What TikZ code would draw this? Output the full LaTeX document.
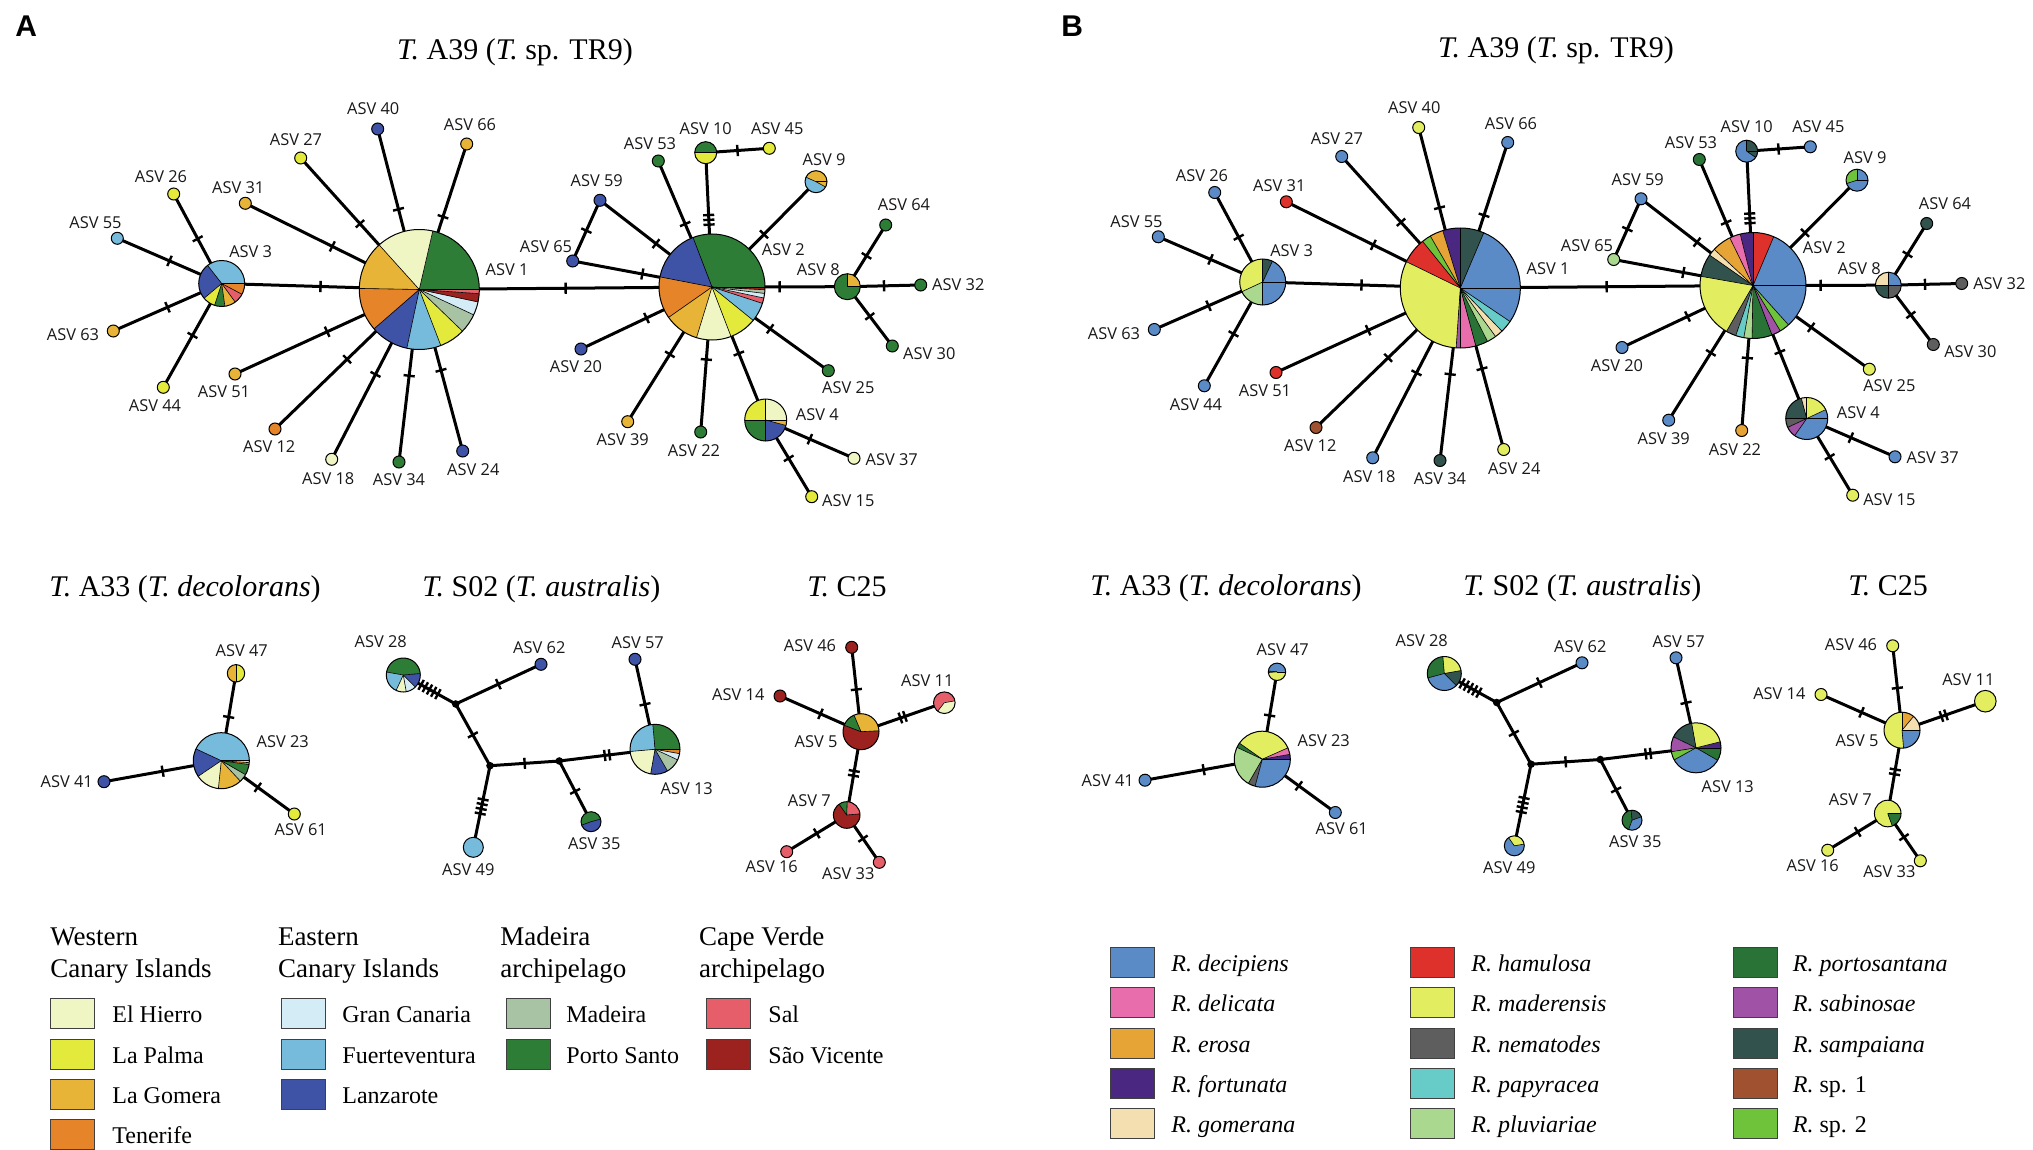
\documentclass[tikz,border=0pt]{standalone}
\usepackage{fontspec}
\setmainfont{Liberation Serif}
\newfontfamily\labfont{Open Sans}
\newfontfamily\panfont{Liberation Sans}
\usetikzlibrary{calc}
% panel A colours (islands)
\definecolor{cEH}{HTML}{F0F6C3}
\definecolor{cLP}{HTML}{E3EA3C}
\definecolor{cLG}{HTML}{E8B438}
\definecolor{cTF}{HTML}{E58428}
\definecolor{cGC}{HTML}{D4ECF5}
\definecolor{cFV}{HTML}{76BBDB}
\definecolor{cLZ}{HTML}{3E52A6}
\definecolor{cMA}{HTML}{A8C3A3}
\definecolor{cPS}{HTML}{2E7D36}
\definecolor{cSA}{HTML}{E65E6A}
\definecolor{cSV}{HTML}{9B221E}
% panel B colours (species)
\definecolor{rdec}{HTML}{5A8BC6}
\definecolor{rdel}{HTML}{E86DAC}
\definecolor{rero}{HTML}{E5A435}
\definecolor{rfor}{HTML}{4A2882}
\definecolor{rgom}{HTML}{F3DFB0}
\definecolor{rham}{HTML}{DE312B}
\definecolor{rmad}{HTML}{E2EE5F}
\definecolor{rnem}{HTML}{5E5E5E}
\definecolor{rpap}{HTML}{67CBC7}
\definecolor{rplu}{HTML}{A9D88E}
\definecolor{rpor}{HTML}{2A7336}
\definecolor{rsab}{HTML}{A052A6}
\definecolor{rsam}{HTML}{32524E}
\definecolor{rspa}{HTML}{A05230}
\definecolor{rspb}{HTML}{6EC33A}

\newcommand\tkr{\rule[-2.8pt]{1.2pt}{5.6pt}}
\newcommand\tkg{\hspace{1.2pt}}
\newcommand\ticks[1]{\ifcase#1\or\tkr\or\tkr\tkg\tkr\or\tkr\tkg\tkr\tkg\tkr\or\tkr\tkg\tkr\tkg\tkr\tkg\tkr\or\tkr\tkg\tkr\tkg\tkr\tkg\tkr\tkg\tkr\fi}
\newcommand\ed[3]{\draw[edge] (#1) -- node[tkmark]{\ticks{#3}} (#2);}
\newcommand\lf[2]{\node[leaf, fill=#2] (#1n) at (#1) {};}
\newcommand\disc[3]{\node[pienode, fill=#3, minimum size=#2 pt] (#1n) at (#1) {};}
\newcommand\pie[3]{%
  \foreach \sa/\sb/\sc in {#3}{\fill[fill=\sc] (#1) -- ++(-\sa:#2) arc[start angle=-\sa, end angle=-\sb, radius=#2] -- cycle;}
  \foreach \sa/\sb/\sc in {#3}{\draw[sliceline] (#1) -- ++(-\sa:#2);}
  \node[pienode, minimum size=#2 pt] (#1n) at (#1) {};}
\newcommand\lgi[6]{%
  \node[legbox, fill=#4] (#1b) at (#2,#3) {};
  \node[legt] (#1t) at (#5,#3+24.5) {#6};}

\newcommand\netgeom[3]{%
\begin{scope}[shift={(#2,#3)}]
\coordinate (#1-1) at (419.3,289.5);
\coordinate (#1-2) at (712,287);
\coordinate (#1-3) at (221.7,283.5);
\coordinate (#1-4) at (765.7,420);
\coordinate (#1-8) at (847.3,286.7);
\coordinate (#1-9) at (816,181.7);
\coordinate (#1-10) at (705.7,152.7);
\coordinate (#1-55) at (117.3,238.3);
\coordinate (#1-26) at (173.7,194);
\coordinate (#1-63) at (113.3,331);
\coordinate (#1-44) at (163.3,387.3);
\coordinate (#1-31) at (245.3,203.3);
\coordinate (#1-27) at (300.7,158);
\coordinate (#1-40) at (377.7,129);
\coordinate (#1-66) at (466.7,144);
\coordinate (#1-51) at (235,374);
\coordinate (#1-12) at (275,429);
\coordinate (#1-18) at (331.7,459.3);
\coordinate (#1-34) at (399,462);
\coordinate (#1-24) at (462.7,451);
\coordinate (#1-45) at (769.3,148.3);
\coordinate (#1-53) at (658.3,161);
\coordinate (#1-59) at (600,200.3);
\coordinate (#1-65) at (572.7,261);
\coordinate (#1-64) at (885.7,225);
\coordinate (#1-32) at (920.7,285);
\coordinate (#1-30) at (892.3,346);
\coordinate (#1-20) at (581,349);
\coordinate (#1-39) at (627.7,421.7);
\coordinate (#1-22) at (700.7,432);
\coordinate (#1-25) at (828.3,370.7);
\coordinate (#1-37) at (854,458.3);
\coordinate (#1-15) at (811.7,496.7);
\coordinate (#1-23) at (221.3,760.7);
\coordinate (#1-47) at (236,673.3);
\coordinate (#1-41) at (104,781.7);
\coordinate (#1-61) at (294.3,814);
\coordinate (#1-28) at (403.3,675);
\coordinate (#1-J1) at (455.7,704);
\coordinate (#1-J2) at (490,765.7);
\coordinate (#1-J3) at (559.3,761);
\coordinate (#1-62) at (541,664.3);
\coordinate (#1-49) at (473.3,847.3);
\coordinate (#1-35) at (591,821.7);
\coordinate (#1-13) at (655,749.3);
\coordinate (#1-57) at (635,659.3);
\coordinate (#1-5) at (861,731.7);
\coordinate (#1-46) at (851.7,647.3);
\coordinate (#1-14) at (780,696);
\coordinate (#1-11) at (944.3,702.7);
\coordinate (#1-7) at (846.7,815);
\coordinate (#1-16) at (786.7,851.7);
\coordinate (#1-33) at (879.3,862.3);
% edges
\ed{#1-3}{#1-1}{1}\ed{#1-1}{#1-2}{1}
\ed{#1-3}{#1-55}{1}\ed{#1-3}{#1-26}{1}\ed{#1-3}{#1-63}{1}\ed{#1-3}{#1-44}{1}
\ed{#1-1}{#1-31}{1}\ed{#1-1}{#1-27}{1}\ed{#1-1}{#1-40}{1}\ed{#1-1}{#1-66}{1}
\ed{#1-1}{#1-51}{1}\ed{#1-1}{#1-12}{1}\ed{#1-1}{#1-18}{1}\ed{#1-1}{#1-34}{1}\ed{#1-1}{#1-24}{1}
\ed{#1-2}{#1-10}{3}\ed{#1-10}{#1-45}{1}\ed{#1-2}{#1-53}{1}\ed{#1-2}{#1-9}{1}
\ed{#1-2}{#1-59}{1}\ed{#1-59}{#1-65}{1}\ed{#1-2}{#1-65}{1}
\ed{#1-2}{#1-8}{1}\ed{#1-8}{#1-64}{1}\ed{#1-8}{#1-32}{1}\ed{#1-8}{#1-30}{1}
\ed{#1-2}{#1-20}{1}\ed{#1-2}{#1-39}{1}\ed{#1-2}{#1-22}{1}\ed{#1-2}{#1-25}{1}\ed{#1-2}{#1-4}{1}
\ed{#1-4}{#1-37}{1}\ed{#1-4}{#1-15}{1}
\ed{#1-23}{#1-47}{1}\ed{#1-23}{#1-41}{1}\ed{#1-23}{#1-61}{1}
\ed{#1-28}{#1-J1}{5}\ed{#1-J1}{#1-62}{1}\ed{#1-J1}{#1-J2}{1}\ed{#1-J2}{#1-49}{4}
\ed{#1-J2}{#1-J3}{1}\ed{#1-J3}{#1-35}{1}\ed{#1-J3}{#1-13}{2}\ed{#1-13}{#1-57}{1}
\ed{#1-5}{#1-46}{1}\ed{#1-5}{#1-14}{1}\ed{#1-5}{#1-11}{2}\ed{#1-5}{#1-7}{2}
\ed{#1-7}{#1-16}{1}\ed{#1-7}{#1-33}{1}
\node[jdot] (#1-J1n) at (#1-J1) {};
\node[jdot] (#1-J2n) at (#1-J2) {};
\node[jdot] (#1-J3n) at (#1-J3) {};
% labels
\node[lab] (#1-l55) at (95.5,223) {ASV 55};
\node[lab] (#1-l26) at (161,176.7) {ASV 26};
\node[lab] (#1-l63) at (73,335) {ASV 63};
\node[lab] (#1-l44) at (155,406) {ASV 44};
\node[lab] (#1-l3) at (250.7,251.7) {ASV 3};
\node[lab] (#1-l31) at (238.3,187.3) {ASV 31};
\node[lab] (#1-l27) at (296,140) {ASV 27};
\node[lab] (#1-l40) at (373.3,109) {ASV 40};
\node[lab] (#1-l66) at (470,125) {ASV 66};
\node[lab] (#1-l51) at (224,391.7) {ASV 51};
\node[lab] (#1-l12) at (269.3,446.7) {ASV 12};
\node[lab] (#1-l18) at (328.3,478.3) {ASV 18};
\node[lab] (#1-l34) at (399,480) {ASV 34};
\node[lab] (#1-l24) at (473.3,470) {ASV 24};
\node[lab] (#1-l1) at (507,270) {ASV 1};
\node[lab] (#1-l2) at (783.3,249.3) {ASV 2};
\node[lab] (#1-l10) at (705.7,128.3) {ASV 10};
\node[lab] (#1-l45) at (777.3,128.3) {ASV 45};
\node[lab] (#1-l53) at (650,144) {ASV 53};
\node[lab] (#1-l9) at (824,159.3) {ASV 9};
\node[lab] (#1-l59) at (596.7,180.7) {ASV 59};
\node[lab] (#1-l65) at (546,246.7) {ASV 65};
\node[lab] (#1-l8) at (818.3,270) {ASV 8};
\node[lab] (#1-l64) at (904,205) {ASV 64};
\node[lab] (#1-l32) at (958.3,285) {ASV 32};
\node[lab] (#1-l30) at (929.3,353.3) {ASV 30};
\node[lab] (#1-l20) at (576,366.7) {ASV 20};
\node[lab] (#1-l39) at (622.7,440) {ASV 39};
\node[lab] (#1-l22) at (694,450.7) {ASV 22};
\node[lab] (#1-l25) at (848.3,387.3) {ASV 25};
\node[lab] (#1-l4) at (817.3,414.3) {ASV 4};
\node[lab] (#1-l37) at (891.7,459.3) {ASV 37};
\node[lab] (#1-l15) at (848.3,501) {ASV 15};
\node[lab] (#1-l23) at (282.7,741.7) {ASV 23};
\node[lab] (#1-l47) at (241.7,650.7) {ASV 47};
\node[lab] (#1-l41) at (66.7,781.7) {ASV 41};
\node[lab] (#1-l61) at (300.7,830) {ASV 61};
\node[lab] (#1-l28) at (380.7,641.7) {ASV 28};
\node[lab] (#1-l62) at (539.3,647.7) {ASV 62};
\node[lab] (#1-l49) at (468.3,869.3) {ASV 49};
\node[lab] (#1-l35) at (594.3,843.3) {ASV 35};
\node[lab] (#1-l13) at (686.7,788.3) {ASV 13};
\node[lab] (#1-l57) at (637.7,642.7) {ASV 57};
\node[lab] (#1-l5) at (816,741.7) {ASV 5};
\node[lab] (#1-l46) at (810,646) {ASV 46};
\node[lab] (#1-l14) at (738.3,695) {ASV 14};
\node[lab] (#1-l11) at (927.3,680.7) {ASV 11};
\node[lab] (#1-l7) at (809.3,800.7) {ASV 7};
\node[lab] (#1-l16) at (771.7,866.7) {ASV 16};
\node[lab] (#1-l33) at (848.3,873.3) {ASV 33};
% titles
\node[ttl] (#1-t1) at (515,59.3) {\textit{T.} A39 (\textit{T.} sp. TR9)};
\node[ttl] (#1-t2) at (185,596.7) {\textit{T.} A33 (\textit{T. decolorans})};
\node[ttl] (#1-t3) at (541.3,596.7) {\textit{T.} S02 (\textit{T. australis})};
\node[ttl] (#1-t4) at (847,596.7) {\textit{T.} C25};
\end{scope}}

\begin{document}
\begin{tikzpicture}[x=0.5pt,y=-0.5pt,
  edge/.style={line width=1.5pt, black},
  tkmark/.style={sloped, midway, inner sep=0pt, outer sep=0pt},
  lab/.style={font=\labfont\fontsize{8.2}{10}\selectfont, inner sep=0pt, text=black!90},
  leaf/.style={circle, draw=black, line width=0.5pt, inner sep=0pt, minimum size=6pt},
  pienode/.style={circle, draw=black, line width=0.5pt, inner sep=0pt},
  jdot/.style={circle, fill=black, inner sep=0pt, minimum size=3.8pt},
  sliceline/.style={line width=0.3pt, black},
  ttl/.style={font=\fontsize{15}{18}\selectfont, anchor=base, inner sep=0pt},
  legh/.style={font=\fontsize{13.5}{16}\selectfont, anchor=base west, inner sep=0pt},
  legt/.style={font=\fontsize{12}{14}\selectfont, anchor=base west, inner sep=0pt},
  legbox/.style={draw=black!75, line width=0.5pt, anchor=north west, minimum width=22pt, minimum height=15pt, inner sep=0pt},
  panlab/.style={font=\panfont\bfseries\fontsize{15}{18}\selectfont, anchor=base west, inner sep=0pt}]
\useasboundingbox (0,0) rectangle (2033,1150);
\fill[white] (0,0) rectangle (2033,1150);

\node[panlab] (pA) at (15,37) {A};
\node[panlab] (pB) at (1061,37) {B};

%================ PANEL A =================
\netgeom{A}{0}{0}
\pie{A-1}{60}{0/77/cPS,77/132/cEH,132/179/cLG,179/221/cTF,221/258/cLZ,258/291/cFV,291/316/cLP,316/335/cMA,335/348/cGC,348/356/cSV,356/360/cSA}
\pie{A-2}{53}{0/111/cPS,111/169/cLZ,169/215/cTF,215/253/cLG,253/291/cEH,291/321/cLP,321/342/cFV,342/348/cSA,348/353/cGC,353/357/cMA,357/360/cSV}
\pie{A-3}{23}{0/128/cFV,128/220/cLZ,220/252/cLP,252/278/cPS,278/306/cLG,306/332/cSA,332/360/cTF}
\pie{A-4}{21}{0/90/cEH,90/180/cLP,180/270/cPS,270/345/cLZ,345/360/cLG}
\pie{A-8}{13}{0/90/cLG,90/360/cPS}
\pie{A-9}{11}{0/156/cLG,156/331/cFV,331/360/cLG}
\pie{A-10}{11}{0/180/cPS,180/360/cLP}
\lf{A-55}{cFV}\lf{A-26}{cLP}\lf{A-63}{cLG}\lf{A-44}{cLP}
\lf{A-31}{cLG}\lf{A-27}{cLP}\lf{A-40}{cLZ}\lf{A-66}{cLG}
\lf{A-51}{cLG}\lf{A-12}{cTF}\lf{A-18}{cEH}\lf{A-34}{cPS}\lf{A-24}{cLZ}
\lf{A-45}{cLP}\lf{A-53}{cPS}\lf{A-59}{cLZ}\lf{A-65}{cLZ}
\lf{A-64}{cPS}\lf{A-32}{cPS}\lf{A-30}{cPS}
\lf{A-20}{cLZ}\lf{A-39}{cLG}\lf{A-22}{cPS}\lf{A-25}{cPS}
\lf{A-37}{cEH}\lf{A-15}{cLP}
\pie{A-23}{28}{0/155/cFV,155/214/cLZ,214/264/cEH,264/313/cLG,313/330/cMA,330/352/cPS,352/356/cTF,356/360/cLP}
\pie{A-47}{8.7}{90/270/cLG,270/450/cLP}
\lf{A-41}{cLZ}\lf{A-61}{cLP}
\pie{A-28}{17}{5/170/cPS,170/245/cFV,245/280/cEH,280/315/cGC,315/365/cLZ}
\lf{A-62}{cLZ}
\disc{A-49}{10}{cFV}
\pie{A-35}{10}{15/200/cPS,200/375/cLZ}
\pie{A-13}{25}{0/95/cPS,95/185/cFV,185/260/cEH,260/300/cLZ,300/335/cMA,335/350/cGC,350/360/cTF}
\lf{A-57}{cLZ}
\pie{A-5}{18}{3/113/cLG,113/159/cPS,159/363/cSV}
\lf{A-46}{cSV}\lf{A-14}{cSV}
\pie{A-11}{10.8}{10/232/cSA,232/370/cEH}
\pie{A-7}{13.3}{5/88/cSA,88/125/cPS,125/365/cSV}
\lf{A-16}{cSA}\lf{A-33}{cSA}

% legend A
\node[legh] (hW1) at (50,945) {Western};
\node[legh] (hW2) at (50,977) {Canary Islands};
\node[legh] (hE1) at (277.6,945) {Eastern};
\node[legh] (hE2) at (277.6,977) {Canary Islands};
\node[legh] (hM1) at (500,945) {Madeira};
\node[legh] (hM2) at (500,977) {archipelago};
\node[legh] (hC1) at (698.7,945) {Cape Verde};
\node[legh] (hC2) at (698.7,977) {archipelago};
\lgi{kEH}{50}{998}{cEH}{112}{El Hierro}
\lgi{kLP}{50}{1039}{cLP}{112}{La Palma}
\lgi{kLG}{50}{1079}{cLG}{112}{La Gomera}
\lgi{kTF}{50}{1119}{cTF}{112}{Tenerife}
\lgi{kGC}{281}{998}{cGC}{342}{Gran Canaria}
\lgi{kFV}{281}{1039}{cFV}{342}{Fuerteventura}
\lgi{kLZ}{281}{1079}{cLZ}{342}{Lanzarote}
\lgi{kMA}{506}{998}{cMA}{566}{Madeira}
\lgi{kPS}{506}{1039}{cPS}{566}{Porto Santo}
\lgi{kSA}{706}{998}{cSA}{768}{Sal}
\lgi{kSV}{706}{1039}{cSV}{768}{São Vicente}

%================ PANEL B =================
\netgeom{B}{1041}{-1.5}
\pie{B-1}{60}{0/67/rdec,67/90/rsam,90/107/rfor,107/120/rero,120/129/rspb,129/154/rham,154/266/rmad,266/270/rsab,270/285/rdel,285/297/rpor,297/306/rplu,306/314/rgom,314/326/rpap,326/360/rdec}
\pie{B-2}{53}{0/67/rdec,67/90/rham,90/104/rfor,104/116/rdel,116/137/rero,137/145/rgom,145/170/rsam,170/240/rmad,240/251/rnem,251/260/rpap,260/269/rplu,269/291/rpor,291/301/rsab,301/312/rspb,312/360/rdec}
\pie{B-3}{23}{0/65/rdec,65/90/rsam,90/205/rmad,205/270/rplu,270/360/rdec}
\pie{B-4}{21}{0/25/rdec,25/90/rmad,90/105/rgom,105/180/rsam,180/205/rnem,205/235/rsab,235/360/rdec}
\pie{B-8}{13}{0/90/rdec,90/180/rgom,180/270/rsam,270/360/rnem}
\pie{B-9}{11}{0/90/rdec,90/198/rspb,198/360/rdec}
\pie{B-10}{11}{0/90/rsam,90/325/rdec,325/360/rsam}
\lf{B-55}{rdec}\lf{B-26}{rdec}\lf{B-63}{rdec}\lf{B-44}{rdec}
\lf{B-31}{rham}\lf{B-27}{rdec}\lf{B-40}{rmad}\lf{B-66}{rdec}
\lf{B-51}{rham}\lf{B-12}{rspa}\lf{B-18}{rdec}\lf{B-34}{rsam}\lf{B-24}{rmad}
\lf{B-45}{rdec}\lf{B-53}{rpor}\lf{B-59}{rdec}\lf{B-65}{rplu}
\lf{B-64}{rsam}\lf{B-32}{rnem}\lf{B-30}{rnem}
\lf{B-20}{rdec}\lf{B-39}{rdec}\lf{B-22}{rero}\lf{B-25}{rmad}
\lf{B-37}{rdec}\lf{B-15}{rmad}
\pie{B-23}{28}{0/10/rfor,10/24/rdel,24/145/rmad,145/155/rpor,155/240/rplu,240/255/rnem,255/360/rdec}
\pie{B-47}{8.7}{0/175/rdec,175/185/rsam,185/360/rmad}
\lf{B-41}{rdec}\lf{B-61}{rdec}
\pie{B-28}{17}{10/95/rmad,95/195/rpor,195/315/rdec,315/370/rsam}
\lf{B-62}{rdec}
\pie{B-49}{10}{10/125/rmad,125/370/rdec}
\pie{B-35}{10}{20/95/rsam,95/250/rpor,250/380/rdec}
\pie{B-13}{25}{0/14/rfor,14/100/rmad,100/154/rsam,154/189/rsab,189/209/rspb,209/330/rdec,330/360/rpor}
\lf{B-57}{rdec}
\pie{B-5}{18}{0/50/rgom,50/90/rero,90/275/rmad,275/360/rdec}
\lf{B-46}{rmad}\lf{B-14}{rmad}
\disc{B-11}{10.8}{rmad}
\pie{B-7}{13.3}{0/290/rmad,290/360/rpor}
\lf{B-16}{rmad}\lf{B-33}{rmad}

% legend B
\lgi{rk1}{1110}{947}{rdec}{1171}{\textit{R. decipiens}}
\lgi{rk2}{1110}{987}{rdel}{1171}{\textit{R. delicata}}
\lgi{rk3}{1110}{1028}{rero}{1171}{\textit{R. erosa}}
\lgi{rk4}{1110}{1068}{rfor}{1171}{\textit{R. fortunata}}
\lgi{rk5}{1110}{1108}{rgom}{1171}{\textit{R. gomerana}}
\lgi{rk6}{1410}{947}{rham}{1471}{\textit{R. hamulosa}}
\lgi{rk7}{1410}{987}{rmad}{1471}{\textit{R. maderensis}}
\lgi{rk8}{1410}{1028}{rnem}{1471}{\textit{R. nematodes}}
\lgi{rk9}{1410}{1068}{rpap}{1471}{\textit{R. papyracea}}
\lgi{rk10}{1410}{1108}{rplu}{1471}{\textit{R. pluviariae}}
\lgi{rk11}{1733}{947}{rpor}{1792.5}{\textit{R. portosantana}}
\lgi{rk12}{1733}{987}{rsab}{1792.5}{\textit{R. sabinosae}}
\lgi{rk13}{1733}{1028}{rsam}{1792.5}{\textit{R. sampaiana}}
\lgi{rk14}{1733}{1068}{rspa}{1792.5}{\textit{R.} sp. 1}
\lgi{rk15}{1733}{1108}{rspb}{1792.5}{\textit{R.} sp. 2}
\end{tikzpicture}
\end{document}
